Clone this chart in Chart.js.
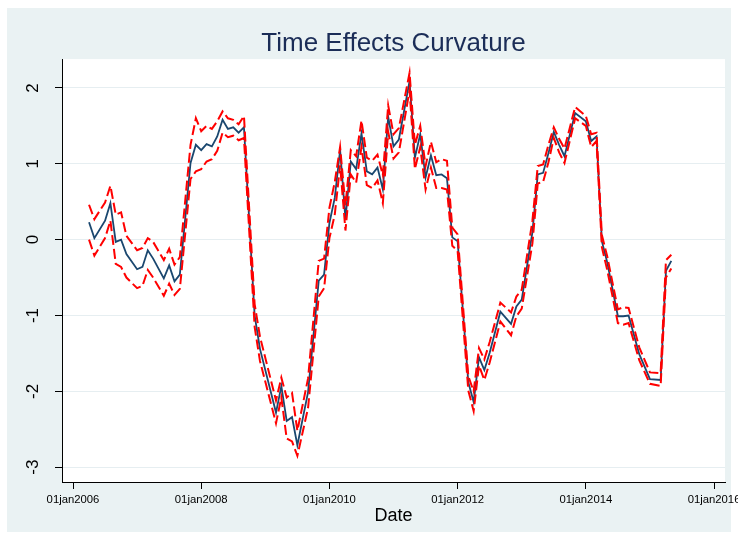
<!DOCTYPE html>
<html><head><meta charset="utf-8">
<script src="https://cdn.jsdelivr.net/npm/chart.js@4.4.1/dist/chart.umd.min.js"></script>
<style>html,body{margin:0;padding:0;background:#fff}</style>
</head><body>
<canvas id="c" width="738" height="540"></canvas>
<script>
const dates = ["2006-04","2006-05","2006-07","2006-08","2006-09","2006-10","2006-11","2007-01","2007-02","2007-03","2007-04","2007-06","2007-07","2007-08","2007-09","2007-11","2007-12","2008-01","2008-02","2008-03","2008-04","2008-05","2008-06","2008-07","2008-08","2008-09","2008-11","2008-12","2009-03","2009-04","2009-05","2009-06","2009-07","2009-09","2009-11","2009-12","2010-01","2010-02","2010-03","2010-04","2010-05","2010-06","2010-07","2010-08","2010-09","2010-10","2010-11","2010-12","2011-01","2011-02","2011-04","2011-05","2011-06","2011-07","2011-08","2011-09","2011-10","2011-11","2011-12","2012-01","2012-03","2012-04","2012-05","2012-06","2012-07","2012-09","2012-11","2012-12","2013-01","2013-03","2013-04","2013-05","2013-06","2013-07","2013-08","2013-09","2013-11","2014-01","2014-02","2014-03","2014-04","2014-05","2014-07","2014-08","2014-09","2014-11","2015-01","2015-03","2015-04","2015-05"];
const estimate = [0.23,0.02,0.25,0.48,-0.03,0.00,-0.19,-0.39,-0.36,-0.14,-0.25,-0.51,-0.34,-0.55,-0.46,1.01,1.25,1.18,1.26,1.23,1.36,1.58,1.46,1.48,1.41,1.48,-1.00,-1.44,-2.28,-1.93,-2.39,-2.34,-2.71,-2.01,-0.54,-0.46,0.22,0.55,1.18,0.27,1.03,0.93,1.40,0.90,0.86,0.95,0.66,1.62,1.23,1.32,2.09,1.08,1.39,0.82,1.11,0.85,0.86,0.81,0.03,-0.02,-1.88,-2.14,-1.55,-1.72,-1.49,-0.95,-1.11,-0.88,-0.79,0.10,0.86,0.88,1.14,1.42,1.25,1.10,1.67,1.56,1.30,1.36,-0.02,-0.30,-1.01,-1.01,-1.00,-1.51,-1.84,-1.85,-0.41,-0.28];
const upperCI = [0.46,0.27,0.49,0.71,0.33,0.36,0.05,-0.14,-0.11,0.02,-0.03,-0.27,-0.12,-0.33,-0.23,1.25,1.60,1.43,1.50,1.46,1.56,1.69,1.60,1.58,1.52,1.63,-0.85,-1.28,-2.12,-1.82,-2.08,-2.02,-2.52,-1.83,-0.28,-0.25,0.42,0.76,1.22,0.45,1.18,1.10,1.57,1.08,1.04,1.12,0.85,1.77,1.39,1.47,2.20,1.25,1.50,0.97,1.29,1.02,1.06,1.04,0.16,0.07,-1.80,-2.00,-1.43,-1.58,-1.35,-0.83,-0.96,-0.75,-0.66,0.25,0.97,0.99,1.25,1.48,1.33,1.20,1.75,1.63,1.39,1.41,0.06,-0.22,-0.92,-0.89,-0.90,-1.42,-1.75,-1.76,-0.27,-0.20];
const lowerCI = [0.00,-0.21,0.02,0.25,-0.32,-0.36,-0.50,-0.64,-0.61,-0.40,-0.50,-0.74,-0.58,-0.73,-0.65,0.80,0.90,0.93,1.03,1.06,1.17,1.41,1.35,1.37,1.31,1.34,-1.15,-1.60,-2.42,-2.08,-2.62,-2.66,-2.85,-2.22,-0.75,-0.64,0.02,0.33,0.98,0.12,0.86,0.75,1.22,0.72,0.68,0.78,0.48,1.42,1.07,1.15,1.97,0.93,1.22,0.66,0.95,0.68,0.68,0.66,-0.08,-0.15,-1.99,-2.26,-1.66,-1.85,-1.62,-1.08,-1.26,-1.01,-0.91,-0.05,0.74,0.76,1.02,1.34,1.15,1.01,1.60,1.50,1.22,1.30,-0.10,-0.40,-1.10,-1.12,-1.10,-1.59,-1.90,-1.93,-0.50,-0.38];
const xTickValues = [0,24,48,72,96,120];
const xTickLabels = ["01jan2006","01jan2008","01jan2010","01jan2012","01jan2014","01jan2016"];
const yTickValues = [-3,-2,-1,0,1,2];
const yTickLabels = ["-3","-2","-1","0","1","2"];

function monthIndex(s){ const p = s.split('-').map(Number); return (p[0]-2006)*12 + (p[1]-1); }
const toPoints = arr => arr.map((v,i)=>({x: monthIndex(dates[i]), y: v}));

Chart.defaults.font.family = "'Liberation Sans', Arial, Helvetica, sans-serif";
Chart.defaults.color = '#000';

const bgPlugin = {
  id: 'bg',
  beforeDraw(chart){
    const {ctx, chartArea: a} = chart;
    ctx.save();
    ctx.fillStyle = '#ffffff';
    ctx.fillRect(0,0,chart.width,chart.height);
    ctx.fillStyle = '#eaf2f3';
    ctx.fillRect(7,8,724,524);
    ctx.fillStyle = '#ffffff';
    ctx.fillRect(a.left, a.top, a.right-a.left, a.bottom-a.top);
    ctx.restore();
  }
};

new Chart(document.getElementById('c').getContext('2d'), {
  type: 'line',
  data: { datasets: [
    {label:'Upper', data: toPoints(upperCI), borderColor:'#ff0000', borderWidth:2, borderDash:[10,4], pointRadius:0, tension:0, fill:false, order:1},
    {label:'Lower', data: toPoints(lowerCI), borderColor:'#ff0000', borderWidth:2, borderDash:[10,4], pointRadius:0, tension:0, fill:false, order:1},
    {label:'Estimate', data: toPoints(estimate), borderColor:'#1a476f', borderWidth:1.8, pointRadius:0, tension:0, fill:false, order:2}
  ]},
  options: {
    responsive:false, animation:false, devicePixelRatio:1,
    layout:{padding:{left:7,right:13,top:8,bottom:8}},
    plugins:{
      legend:{display:false}, tooltip:{enabled:false},
      title:{display:true, fullSize:false, text:'Time Effects Curvature', color:'#1b2d57', font:{size:26, weight:'normal'}, padding:{top:19.9, bottom:0}}
    },
    scales:{
      x:{type:'linear', min:-2.06, max:122.05,
        afterBuildTicks(s){ s.ticks = xTickValues.map(v=>({value:v})); },
        afterFit(s){ s.height = 50; s.paddingLeft = 0; s.paddingRight = 0; },
        grid:{drawOnChartArea:false, tickLength:7, tickColor:'#000', tickWidth:1},
        border:{display:true, color:'#000', width:1},
        ticks:{autoSkip:false, maxRotation:0, minRotation:0, padding:4, font:{size:11.3}, color:'#000',
          callback:(v)=>xTickLabels[xTickValues.indexOf(v)]},
        title:{display:true, text:'Date', font:{size:18}, color:'#000', padding:{top:0, bottom:5}}
      },
      y:{type:'linear', min:-3.195, max:2.38,
        afterBuildTicks(s){ s.ticks = yTickValues.map(v=>({value:v})); },
        afterFit(s){ s.width = 55; s.paddingTop = 0; s.paddingBottom = 0; },
        grid:{color:'#e6eef1', lineWidth:1, tickLength:7, tickColor:'#000', tickWidth:1},
        border:{display:true, color:'#000', width:1},
        ticks:{minRotation:90, maxRotation:90, crossAlign:'center', padding:14.5, font:{size:17}, color:'#000',
          callback:(v)=>yTickLabels[yTickValues.indexOf(v)]}
      }
    }
  },
  plugins:[bgPlugin]
});
</script>
</body></html>
